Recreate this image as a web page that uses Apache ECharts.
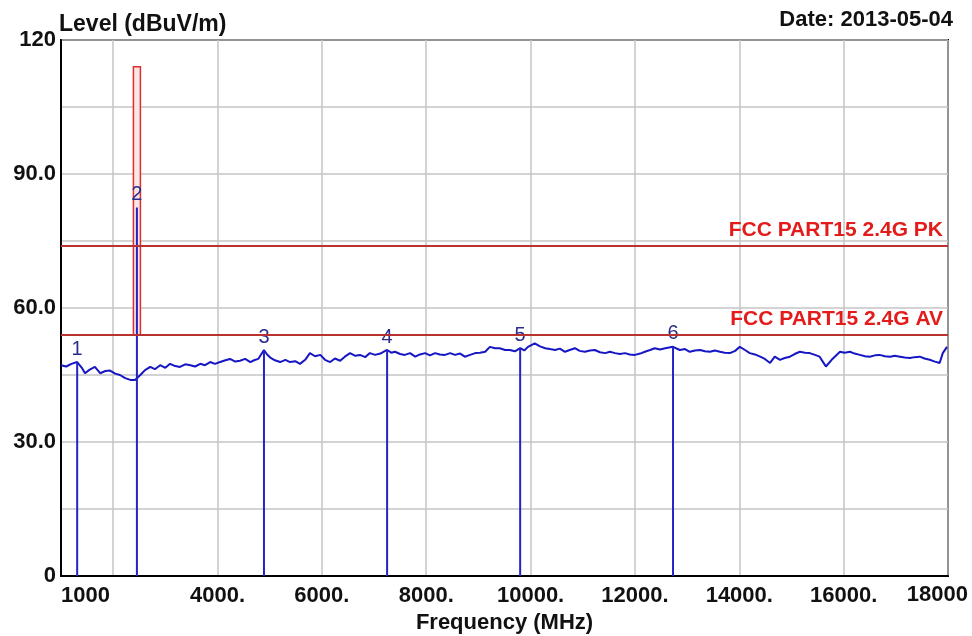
<!DOCTYPE html>
<html>
<head>
<meta charset="utf-8">
<script src="https://cdn.jsdelivr.net/npm/echarts@6/dist/echarts.min.js"></script>
<style>
  html, body { margin: 0; padding: 0; background: #fff; }
  #c_chart { width: 972px; height: 636px; }
</style>
</head>
<body>
<div id="c_chart"></div>
<script>
// scan trace (MHz / dBuV/m)
const traceFreq = [
  1000, 1100, 1200, 1310, 1400, 1460, 1550, 1650, 1750, 1850, 1940, 2040, 2130, 2230, 2330, 2420,
  2520, 2610, 2710, 2800, 2900, 3000, 3090, 3190, 3280, 3380, 3480, 3570, 3670, 3760, 3860, 3950,
  4050, 4150, 4240, 4340, 4430, 4530, 4630, 4700, 4780, 4890, 4950, 5010, 5100, 5200, 5300, 5390,
  5490, 5580, 5680, 5770, 5870, 5970, 6060, 6160, 6250, 6350, 6440, 6540, 6640, 6730, 6830, 6920,
  7020, 7120, 7250, 7330, 7400, 7500, 7590, 7690, 7790, 7880, 7980, 8070, 8170, 8260, 8360, 8460,
  8550, 8650, 8740, 8840, 8940, 9030, 9130, 9220, 9320, 9410, 9510, 9600, 9700, 9800, 9880, 9950,
  10080, 10180, 10280, 10370, 10470, 10560, 10660, 10750, 10850, 10940, 11040, 11140, 11230, 11330,
  11430, 11520, 11620, 11710, 11810, 11900, 12000, 12100, 12190, 12290, 12380, 12480, 12580, 12730,
  12860, 12960, 13050, 13150, 13250, 13340, 13440, 13530, 13630, 13720, 13820, 13920, 14010, 14110,
  14200, 14300, 14400, 14490, 14590, 14680, 14780, 14870, 14970, 15060, 15160, 15260, 15350, 15450,
  15540, 15600, 15660, 15770, 15850, 15930, 16020, 16120, 16210, 16310, 16410, 16500, 16600, 16690,
  16790, 16890, 16980, 17080, 17170, 17270, 17360, 17460, 17550, 17650, 17750, 17840, 17900, 17980
]
const traceLevel = [
  47.2, 46.9, 47.5, 47.9, 46.6, 45.4, 46.2, 46.8, 45.4, 45.9, 46.0, 45.3, 45.0, 44.3, 43.9, 43.9,
  45.0, 46.1, 46.8, 46.3, 47.2, 46.6, 47.5, 47.0, 46.8, 47.4, 47.2, 46.9, 47.5, 47.2, 47.9, 47.5,
  47.9, 48.3, 48.6, 48.0, 48.2, 48.6, 47.9, 48.3, 48.6, 50.6, 49.6, 48.9, 48.3, 47.9, 48.4, 47.9,
  48.1, 47.5, 48.4, 49.9, 49.2, 49.5, 48.4, 47.9, 48.7, 48.2, 49.1, 49.9, 49.3, 49.5, 49.0, 49.9,
  49.5, 49.8, 50.6, 50.0, 50.2, 49.7, 49.5, 49.9, 49.1, 49.6, 49.9, 49.4, 49.9, 49.6, 49.5, 49.9,
  49.5, 49.8, 49.1, 49.5, 49.9, 50.0, 50.2, 51.3, 51.0, 51.0, 50.6, 50.6, 50.3, 51.0, 50.5, 51.3,
  52.1, 51.4, 51.0, 50.8, 50.6, 50.9, 50.2, 50.6, 51.0, 50.4, 50.2, 50.5, 50.6, 50.1,
  49.9, 50.2, 49.9, 49.7, 49.9, 49.6, 49.5, 49.8, 50.2, 50.6, 51.0, 50.7, 51.0, 51.3,
  50.6, 50.8, 50.2, 50.5, 50.6, 50.3, 50.2, 50.5, 50.2, 50.0, 49.9, 50.4, 51.3, 50.6,
  49.9, 49.6, 49.1, 48.6, 47.7, 49.1, 48.4, 48.8, 49.1, 49.7, 50.2, 50.0, 49.9, 49.5,
  49.1, 48.0, 46.9, 48.4, 49.3, 50.2, 50.0, 50.2, 49.8, 49.5, 49.2, 49.1, 49.4, 49.5,
  49.2, 49.1, 49.3, 49.1, 48.9, 48.8, 49.0, 49.1, 48.7, 48.4, 48.0, 47.7, 49.9, 51.3
]

// markers
const markerNames = ['1', '2', '3', '4', '5', '6']
const markerFreq = [1310, 2455, 4890, 7250, 9800, 12730]
const markerLevel = [47.9, 82.5, 50.6, 50.6, 51.0, 51.3]

// peak hold box at the carrier
const peakFreq = 2455
const peakLow = 54
const peakHigh = 114

// limits
const limitNames = ['FCC PART15 2.4G PK', 'FCC PART15 2.4G AV']
const limitLevels = [74, 54]

const FONT = 'Liberation Sans, Arial, sans-serif'

const traceData = traceFreq.map((f, i) => [f, traceLevel[i]])
const markerData = markerFreq.map((f, i) => ({ value: [f, markerLevel[i]], name: markerNames[i] }))

var chart = echarts.init(document.getElementById('c_chart'))
const option = {
  animation: false,
  backgroundColor: '#fff',
  title: [{
    text: 'Level (dBuV/m)',
    left: 59,
    top: 13,
    padding: 0,
    textStyle: { fontFamily: FONT, fontSize: 23, fontWeight: 'bold', color: '#111' }
  }, {
    text: 'Date: 2013-05-04',
    right: 19,
    top: 9,
    padding: 0,
    textStyle: { fontFamily: FONT, fontSize: 22, fontWeight: 'bold', color: '#111' }
  }],
  grid: {
    left: 61,
    right: 24,
    top: 40,
    bottom: 60,
    containLabel: false,
    outerBoundsMode: 'none',
    show: true,
    borderColor: '#000',
    borderWidth: 2
  },
  graphic: [{
    type: 'text',
    right: 4,
    top: 584,
    style: { text: '18000', font: 'bold 22px ' + FONT, fill: '#111' }
  }],
  xAxis: {
    type: 'value',
    min: 1000,
    max: 18000,
    interval: 1000,
    name: 'Frequency (MHz)',
    nameLocation: 'middle',
    nameGap: 31,
    nameTextStyle: { fontFamily: FONT, fontSize: 22, fontWeight: 'bold', color: '#111' },
    axisLine: { show: true, lineStyle: { color: '#000', width: 2 } },
    axisTick: { show: false },
    axisLabel: {
      margin: 9,
      fontFamily: FONT,
      fontSize: 22,
      fontWeight: 'bold',
      color: '#111',
      alignMinLabel: 'left',
      formatter: function (v) {
        if (v === 1000) return '1000'
        if (v === 18000 || v === 2000) return ''
        return v % 2000 === 0 ? v + '.' : ''
      }
    },
    splitLine: {
      show: true,
      showMinLine: true,
      showMaxLine: true,
      lineStyle: { color: ['rgba(0,0,0,0)', '#c4c4c4'], width: 1.5 }
    }
  },
  yAxis: {
    type: 'value',
    min: 0,
    max: 120,
    interval: 15,
    axisLine: { show: true, lineStyle: { color: '#000', width: 2 } },
    axisTick: { show: false },
    axisLabel: {
      margin: 5,
      fontFamily: FONT,
      fontSize: 22,
      fontWeight: 'bold',
      color: '#111',
      formatter: function (v) {
        if (v === 120) return '120'
        if (v === 0) return '0'
        return v % 30 === 0 ? v.toFixed(1) : ''
      }
    },
    splitLine: { show: true, lineStyle: { color: '#c4c4c4', width: 1.5 } }
  },
  series: [{
    name: 'peak',
    type: 'custom',
    z: 2,
    data: [[peakFreq, peakLow, peakHigh]],
    renderItem: function (params, api) {
      const p0 = api.coord([api.value(0), api.value(1)])
      const p1 = api.coord([api.value(0), api.value(2)])
      return {
        type: 'rect',
        shape: { x: p0[0] - 3.5, y: p1[1], width: 7, height: p0[1] - p1[1] },
        style: { fill: '#fbe4e4', stroke: '#dc3030', lineWidth: 1.5 }
      }
    }
  }, {
    name: 'trace',
    type: 'line',
    z: 3,
    symbol: 'none',
    data: traceData,
    lineStyle: { color: '#1616c4', width: 2 },
    markLine: {
      silent: true,
      symbol: 'none',
      lineStyle: { color: '#b83232', width: 2, type: 'solid' },
      label: {
        position: 'insideEndTop',
        distance: 5,
        fontFamily: FONT,
        fontSize: 21,
        fontWeight: 'bold',
        color: '#e41b1b',
        formatter: '{b}'
      },
      data: limitLevels.map((v, i) => ({ name: limitNames[i], yAxis: v }))
    }
  }, {
    name: 'markers',
    type: 'bar',
    z: 4,
    barWidth: 2,
    data: markerData,
    itemStyle: { color: '#2424c4' },
    label: {
      show: true,
      position: 'top',
      distance: 3,
      fontFamily: FONT,
      fontSize: 20,
      color: '#2c2c8c',
      formatter: '{b}'
    }
  }]
}
chart.setOption(option, true)
</script>
</body>
</html>
